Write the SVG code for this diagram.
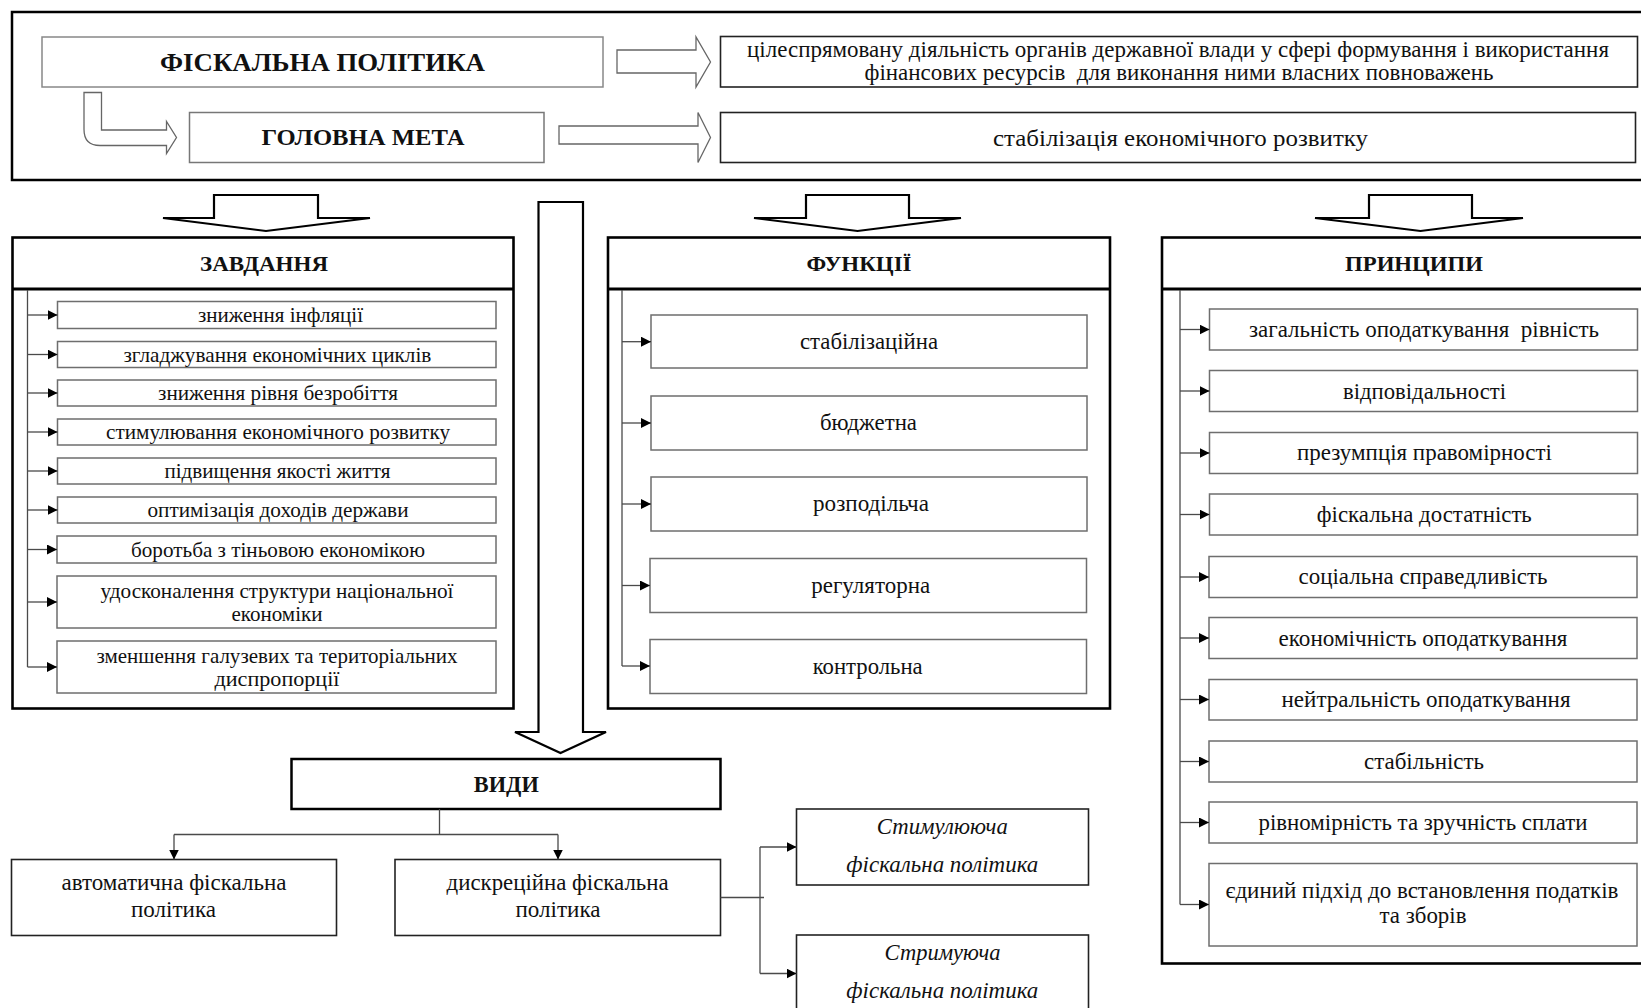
<svg xmlns="http://www.w3.org/2000/svg" width="1641" height="1008" viewBox="0 0 1641 1008">
<defs>
<marker id="ah" markerUnits="userSpaceOnUse" markerWidth="11" markerHeight="11" refX="10" refY="5" orient="auto"><path d="M0,0 L10,5 L0,10 Z" fill="#000"/></marker>
<style>
text{font-family:"Liberation Serif","Times New Roman",serif;fill:#111;text-anchor:middle}
.t{font-size:23px}
.ts{font-size:21px}
.tb{font-size:24px}
.b{font-weight:bold}
.i{font-style:italic}
.item{fill:#fff;stroke:#6e6e6e;stroke-width:1.5}
.box{fill:#fff;stroke:#222;stroke-width:1.6}
.panel{fill:#fff;stroke:#000;stroke-width:2.6}
.hline{stroke:#000;stroke-width:3}
.conn{fill:none;stroke:#4a4a4a;stroke-width:1.3}
.arr{fill:none;stroke:#4a4a4a;stroke-width:1.3;marker-end:url(#ah)}
.harrow{fill:#fff;stroke:#666;stroke-width:1.3}
.barrow{fill:#fff;stroke:#000;stroke-width:2.2;stroke-linejoin:miter}
</style>
</defs>
<rect width="1641" height="1008" fill="#fff"/>

<g id="frame">
<rect x="12" y="12" width="1660" height="168" fill="none" stroke="#000" stroke-width="2.5"/>
</g>

<g id="fiscal-policy">
<rect x="42" y="37" width="561" height="50" fill="#fff" stroke="#888" stroke-width="1.5"/>
<text x="322.5" y="71" font-size="26" class="b" textLength="325" lengthAdjust="spacingAndGlyphs">ФІСКАЛЬНА ПОЛІТИКА</text>
</g>
<g id="definition">
<rect x="720.5" y="36.5" width="917" height="50.5" class="box"/>
<text x="1178" y="56.5" class="t" textLength="862" lengthAdjust="spacingAndGlyphs">цілеспрямовану діяльність органів державної влади у сфері формування і використання</text>
<text x="1179" y="80" class="t" textLength="629" lengthAdjust="spacingAndGlyphs" xml:space="preserve">фінансових ресурсів  для виконання ними власних повноважень</text>
</g>
<g id="main-goal">
<rect x="189.5" y="112.5" width="354.5" height="50" fill="#fff" stroke="#777" stroke-width="1.5"/>
<text x="363" y="145" font-size="23" class="b" textLength="203" lengthAdjust="spacingAndGlyphs">ГОЛОВНА МЕТА</text>
</g>
<g id="goal-text">
<rect x="720.5" y="112.5" width="915" height="50" class="box"/>
<text x="1180.5" y="146" class="t" textLength="375" lengthAdjust="spacingAndGlyphs">стабілізація економічного розвитку</text>
</g>

<g id="zavdannia">
<rect x="12.5" y="237.5" width="501" height="471" class="panel"/>
<line x1="12.5" y1="289" x2="513.5" y2="289" class="hline"/>
<text x="264" y="271" font-size="22" class="b" textLength="128" lengthAdjust="spacingAndGlyphs">ЗАВДАННЯ</text>
<g id="z1"><rect x="57.5" y="301.5" width="438.5" height="27" class="item"/><text x="280.5" y="322" class="ts" textLength="165" lengthAdjust="spacingAndGlyphs">зниження інфляції</text></g>
<g id="z2"><rect x="57.5" y="341.5" width="438.5" height="26" class="item"/><text x="277.4" y="361.5" class="ts" textLength="308" lengthAdjust="spacingAndGlyphs">згладжування економічних циклів</text></g>
<g id="z3"><rect x="57.5" y="380" width="438.5" height="26" class="item"/><text x="278" y="400" class="ts" textLength="240" lengthAdjust="spacingAndGlyphs">зниження рівня безробіття</text></g>
<g id="z4"><rect x="57.5" y="419" width="438.5" height="26" class="item"/><text x="278" y="439" class="ts" textLength="344" lengthAdjust="spacingAndGlyphs">стимулювання економічного розвитку</text></g>
<g id="z5"><rect x="57.5" y="458" width="438.5" height="26" class="item"/><text x="277.4" y="478" class="ts" textLength="226" lengthAdjust="spacingAndGlyphs">підвищення якості життя</text></g>
<g id="z6"><rect x="57.5" y="497" width="438.5" height="26" class="item"/><text x="278" y="517" class="ts" textLength="261" lengthAdjust="spacingAndGlyphs">оптимізація доходів держави</text></g>
<g id="z7"><rect x="57" y="536" width="439" height="27" class="item"/><text x="278" y="556.5" class="ts" textLength="294" lengthAdjust="spacingAndGlyphs">боротьба з тіньовою економікою</text></g>
<g id="z8"><rect x="57" y="576" width="439" height="52" class="item"/><text x="277" y="597.5" class="ts" textLength="353" lengthAdjust="spacingAndGlyphs">удосконалення структури національної</text><text x="277" y="620.5" class="ts" textLength="91" lengthAdjust="spacingAndGlyphs">економіки</text></g>
<g id="z9"><rect x="57" y="641" width="439" height="52" class="item"/><text x="277" y="662.5" class="ts" textLength="361" lengthAdjust="spacingAndGlyphs">зменшення галузевих та територіальних</text><text x="277" y="685.5" class="ts" textLength="125" lengthAdjust="spacingAndGlyphs">диспропорції</text></g>
</g>

<g id="funktsii">
<rect x="608" y="237.5" width="502" height="471" class="panel"/>
<line x1="608" y1="289" x2="1110" y2="289" class="hline"/>
<text x="859" y="271" font-size="22" class="b" textLength="105" lengthAdjust="spacingAndGlyphs">ФУНКЦІЇ</text>
<g id="f1"><rect x="651" y="315" width="436" height="53" class="item"/><text x="869" y="349" class="t" textLength="138" lengthAdjust="spacingAndGlyphs">стабілізаційна</text></g>
<g id="f2"><rect x="651" y="396" width="436" height="54" class="item"/><text x="868.5" y="430" class="t" textLength="97" lengthAdjust="spacingAndGlyphs">бюджетна</text></g>
<g id="f3"><rect x="651" y="477" width="436" height="54" class="item"/><text x="871" y="511" class="t" textLength="116" lengthAdjust="spacingAndGlyphs">розподільча</text></g>
<g id="f4"><rect x="650" y="558.5" width="436.5" height="54" class="item"/><text x="870.7" y="592.5" class="t" textLength="119" lengthAdjust="spacingAndGlyphs">регуляторна</text></g>
<g id="f5"><rect x="650" y="639.5" width="436.5" height="54" class="item"/><text x="867.7" y="673.5" class="t" textLength="110" lengthAdjust="spacingAndGlyphs">контрольна</text></g>
</g>

<g id="pryntsypy">
<rect x="1162" y="237.5" width="520" height="726" class="panel"/>
<line x1="1162" y1="289" x2="1682" y2="289" class="hline"/>
<text x="1414" y="271" font-size="22" class="b" textLength="138" lengthAdjust="spacingAndGlyphs">ПРИНЦИПИ</text>
<g id="p1"><rect x="1209.5" y="309" width="428" height="41" class="item"/><text x="1424" y="337" class="t" textLength="350" lengthAdjust="spacingAndGlyphs" xml:space="preserve">загальність оподаткування  рівність</text></g>
<g id="p2"><rect x="1209.5" y="370.5" width="428" height="41" class="item"/><text x="1424.5" y="398.5" class="t" textLength="163" lengthAdjust="spacingAndGlyphs">відповідальності</text></g>
<g id="p3"><rect x="1209.5" y="432.5" width="428" height="41" class="item"/><text x="1424.5" y="460" class="t" textLength="255" lengthAdjust="spacingAndGlyphs">презумпція правомірності</text></g>
<g id="p4"><rect x="1209.5" y="494" width="428" height="41" class="item"/><text x="1424.3" y="522" class="t" textLength="215" lengthAdjust="spacingAndGlyphs">фіскальна достатність</text></g>
<g id="p5"><rect x="1209" y="556.5" width="428" height="41" class="item"/><text x="1423" y="584" class="t" textLength="249" lengthAdjust="spacingAndGlyphs">соціальна справедливість</text></g>
<g id="p6"><rect x="1209" y="617.5" width="428" height="41" class="item"/><text x="1423" y="645.5" class="t" textLength="289" lengthAdjust="spacingAndGlyphs">економічність оподаткування</text></g>
<g id="p7"><rect x="1209" y="679.5" width="428" height="40.5" class="item"/><text x="1426" y="707" class="t" textLength="289" lengthAdjust="spacingAndGlyphs">нейтральність оподаткування</text></g>
<g id="p8"><rect x="1209" y="741" width="428" height="41" class="item"/><text x="1424" y="768.5" class="t" textLength="120" lengthAdjust="spacingAndGlyphs">стабільність</text></g>
<g id="p9"><rect x="1209" y="802" width="428" height="41" class="item"/><text x="1423" y="830" class="t" textLength="329" lengthAdjust="spacingAndGlyphs">рівномірність та зручність сплати</text></g>
<g id="p10"><rect x="1209" y="863.5" width="428" height="82.5" class="item"/><text x="1422" y="898" class="t" textLength="393" lengthAdjust="spacingAndGlyphs">єдиний підхід до встановлення податків</text><text x="1423" y="923" class="t" textLength="87" lengthAdjust="spacingAndGlyphs">та зборів</text></g>
</g>

<g id="vydy">
<rect x="291.5" y="759" width="429" height="50" fill="#fff" stroke="#000" stroke-width="2.5"/>
<text x="506.3" y="792" font-size="23" class="b" textLength="65" lengthAdjust="spacingAndGlyphs">ВИДИ</text>
</g>
<g id="automatic">
<rect x="11.5" y="859.5" width="325" height="76" class="box"/>
<text x="174" y="890" class="tb" textLength="225" lengthAdjust="spacingAndGlyphs">автоматична фіскальна</text>
<text x="173.5" y="917" class="tb" textLength="85" lengthAdjust="spacingAndGlyphs">політика</text>
</g>
<g id="discretionary">
<rect x="395" y="859.5" width="325.5" height="76" class="box"/>
<text x="557.6" y="890" class="tb" textLength="222" lengthAdjust="spacingAndGlyphs">дискреційна фіскальна</text>
<text x="558" y="917" class="tb" textLength="85" lengthAdjust="spacingAndGlyphs">політика</text>
</g>
<g id="stimulating">
<rect x="796.5" y="809" width="292" height="76" class="box"/>
<text x="942.3" y="834" class="tb i" textLength="131" lengthAdjust="spacingAndGlyphs">Стимулююча</text>
<text x="942.3" y="872" class="tb i" textLength="192" lengthAdjust="spacingAndGlyphs">фіскальна політика</text>
</g>
<g id="restraining">
<rect x="796.5" y="935" width="292" height="90" class="box"/>
<text x="942.6" y="960" class="tb i" textLength="116" lengthAdjust="spacingAndGlyphs">Стримуюча</text>
<text x="942.3" y="998" class="tb i" textLength="192" lengthAdjust="spacingAndGlyphs">фіскальна політика</text>
</g>

<g id="connectors">
<path class="harrow" d="M617,50 L696,50 L696,37 L710.5,62 L696,87 L696,73 L617,73 Z"/>
<path class="harrow" d="M559,126 L698,126 L698,112.5 L710.5,137.5 L698,162.5 L698,144 L559,144 Z"/>
<path class="harrow" d="M101.5,92.5 L101.5,130 L166.5,130 L166.5,121.5 L176.5,137.5 L166.5,153.5 L166.5,145.5 L100,145.5 Q84,145.5 84,129.5 L84,92.5 Z"/>
<path class="barrow" d="M214,195 L318,195 L318,218 L370,218 L266,231 L163,218 L214,218 Z"/>
<path class="barrow" d="M806,195 L909,195 L909,218 L961,218 L857.5,231 L754,218 L806,218 Z"/>
<path class="barrow" d="M1369,195 L1472,195 L1472,218 L1523,218 L1420.5,231 L1315,218 L1369,218 Z"/>
<path class="barrow" d="M538.5,202 L583,202 L583,732 L606,732 L560.5,753 L515,732 L538.5,732 Z"/>

<path class="conn" d="M27.5,290 V667"/>
<path class="arr" d="M27.5,315 H57.5"/>
<path class="arr" d="M27.5,354.5 H57.5"/>
<path class="arr" d="M27.5,393 H57.5"/>
<path class="arr" d="M27.5,432 H57.5"/>
<path class="arr" d="M27.5,471 H57.5"/>
<path class="arr" d="M27.5,510 H57.5"/>
<path class="arr" d="M27.5,549.5 H57"/>
<path class="arr" d="M27.5,602 H57"/>
<path class="arr" d="M27.5,667 H57"/>

<path class="conn" d="M622,290 V666"/>
<path class="arr" d="M622,341.7 H651"/>
<path class="arr" d="M622,423 H651"/>
<path class="arr" d="M622,504 H651"/>
<path class="arr" d="M622,585.5 H650"/>
<path class="arr" d="M622,666 H650"/>

<path class="conn" d="M1180,290 V904.5"/>
<path class="arr" d="M1180,329.5 H1209.5"/>
<path class="arr" d="M1180,391 H1209.5"/>
<path class="arr" d="M1180,453 H1209.5"/>
<path class="arr" d="M1180,514.5 H1209.5"/>
<path class="arr" d="M1180,577 H1209"/>
<path class="arr" d="M1180,638 H1209"/>
<path class="arr" d="M1180,699.5 H1209"/>
<path class="arr" d="M1180,761.5 H1209"/>
<path class="arr" d="M1180,822.5 H1209"/>
<path class="arr" d="M1180,904.5 H1209"/>

<path class="conn" d="M439.5,809 V834.5 M174,834.5 H558"/>
<path class="arr" d="M174,834.5 V859.5"/>
<path class="arr" d="M558,834.5 V859.5"/>
<path class="conn" d="M720.5,897.5 H764 M760,847 V973.5"/>
<path class="arr" d="M760,847 H796.5"/>
<path class="arr" d="M760,973.5 H796.5"/>
</g>
</svg>
